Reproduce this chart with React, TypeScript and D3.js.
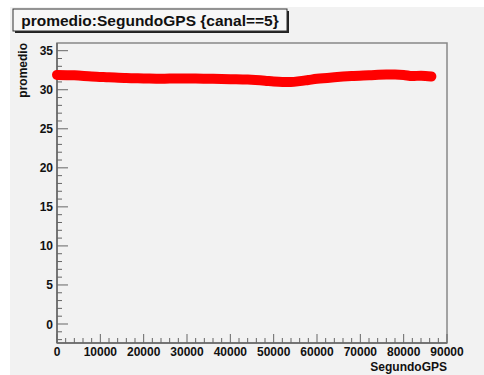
import React from "react";
import * as d3 from "d3";

const seconds = [0, 4000, 8000, 12000, 16000, 20000, 24000, 28000, 32000, 36000, 40000, 44000, 48000, 50000, 52000, 54000, 56000, 58000, 60000, 64000, 68000, 72000, 76000, 78000, 80000, 82000, 84000, 86400];
const promedio = [31.9, 31.85, 31.7, 31.6, 31.5, 31.45, 31.4, 31.45, 31.45, 31.4, 31.35, 31.3, 31.15, 31.05, 31.0, 31.0, 31.1, 31.25, 31.4, 31.6, 31.75, 31.85, 31.95, 31.95, 31.9, 31.75, 31.8, 31.7];
const xTicks = [0, 10000, 20000, 30000, 40000, 50000, 60000, 70000, 80000, 90000];
const yTicks = [0, 5, 10, 15, 20, 25, 30, 35];
const title = "promedio:SegundoGPS {canal==5}";

export default function App() {
  const W = 484, H = 375;
  const left = 57, right = 447, top = 43, bottom = 343;
  const x = d3.scaleLinear().domain([0, 90000]).range([left, right]);
  const y = d3.scaleLinear().domain([0, 35]).range([324, 50.7]);
  const yMin = y.invert(bottom), yMax = y.invert(top);
  const minorX = d3.range(0, 90001, 2000);
  const minorY = d3.range(Math.ceil(yMin), Math.floor(yMax) + 1, 1);
  const line = d3.line<number>().x((_, i) => x(seconds[i])).y((d) => y(d)).curve(d3.curveMonotoneX);
  const font = "'Liberation Sans', Arial, sans-serif";
  const axisCol = "#666";
  return (
    <svg width={W} height={H} style={{ position: "absolute", left: 0, top: 0 }} fontFamily={font}>
      <rect x={0} y={0} width={W} height={H} fill="#fff" />
      <rect x={10} y={7} width={W - 10} height={H - 7} fill="#f2f2f2" />
      {/* frame */}
      <rect x={left} y={top} width={right - left} height={bottom - top} fill="none" stroke="#888" strokeWidth={1.5} />
      {/* x ticks */}
      {minorX.map((v) => (
        <line key={"mx" + v} x1={x(v)} x2={x(v)} y1={bottom} y2={bottom - (v % 10000 === 0 ? 9 : 5)} stroke={axisCol} strokeWidth={1} />
      ))}
      {minorY.map((v) => (
        <line key={"my" + v} x1={left} x2={left + (v % 5 === 0 ? 11 : 5)} y1={y(v)} y2={y(v)} stroke={axisCol} strokeWidth={1} />
      ))}
      <line x1={left} x2={right} y1={bottom} y2={bottom} stroke={axisCol} strokeWidth={1.5} />
      <line x1={left} x2={left} y1={top} y2={bottom} stroke={axisCol} strokeWidth={1.5} />
      {xTicks.map((v) => (
        <text key={"xt" + v} x={x(v)} y={356} textAnchor="middle" fontSize={12} fontWeight="bold" fill="#111">{v}</text>
      ))}
      {yTicks.map((v) => (
        <text key={"yt" + v} x={53} y={y(v) + 4.5} textAnchor="end" fontSize={12} fontWeight="bold" fill="#111">{v}</text>
      ))}
      <text x={right} y={370.5} textAnchor="end" fontSize={12} fontWeight="bold" fill="#111">SegundoGPS</text>
      <text transform={`translate(27,${top}) rotate(-90)`} textAnchor="end" fontSize={12} fontWeight="bold" fill="#111">promedio</text>
      {/* data band */}
      <path d={line(promedio) ?? ""} fill="none" stroke="#ff0000" strokeWidth={10} strokeLinecap="round" strokeLinejoin="round" />
      {/* title box */}
      <rect x={15} y={11} width={274} height={22} fill="#222" />
      <rect x={13} y={9} width={274} height={22} fill="#f7f7f7" stroke="#333" strokeWidth={1} />
      <text x={150} y={26} textAnchor="middle" fontSize={15.5} fontWeight="bold" fill="#111">{title}</text>
    </svg>
  );
}
